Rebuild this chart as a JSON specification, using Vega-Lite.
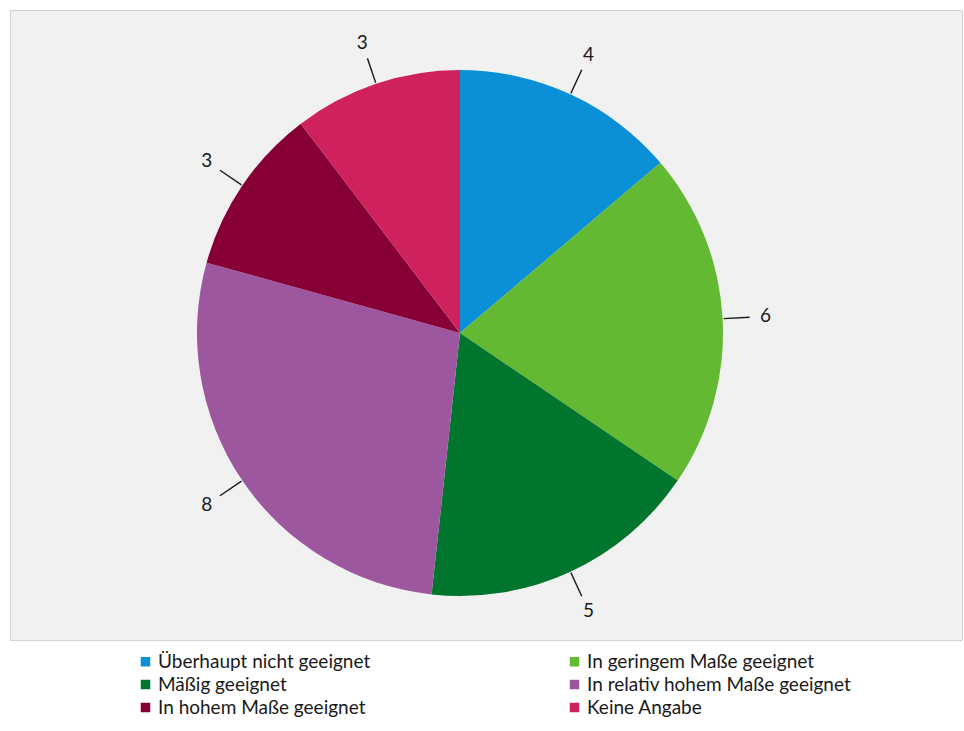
{
  "$schema": "https://vega.github.io/schema/vega-lite/v6.json",
  "width": 952,
  "height": 630,
  "autosize": "none",
  "padding": {"left": 10, "top": 10, "right": 2, "bottom": 91},
  "background": "#ffffff",
  "view": {"fill": "#f1f1f1", "stroke": "#d4d4d4", "strokeWidth": 1},
  "config": {
    "font": "Lato"
  },
  "data": {
    "values": [
      {"category": "Überhaupt nicht geeignet", "value": 4, "order": 1},
      {"category": "In geringem Maße geeignet", "value": 6, "order": 2},
      {"category": "Mäßig geeignet", "value": 5, "order": 3},
      {"category": "In relativ hohem Maße geeignet", "value": 8, "order": 4},
      {"category": "In hohem Maße geeignet", "value": 3, "order": 5},
      {"category": "Keine Angabe", "value": 3, "order": 6}
    ]
  },
  "transform": [
    {"window": [{"op": "sum", "field": "value", "as": "cum"}], "sort": [{"field": "order"}], "frame": [null, 0]},
    {"joinaggregate": [{"op": "sum", "field": "value", "as": "total"}]},
    {"calculate": "(datum.cum - datum.value) / datum.total", "as": "start"},
    {"calculate": "datum.cum / datum.total", "as": "end"},
    {"calculate": "(datum.cum - datum.value / 2) / datum.total", "as": "mid"},
    {"calculate": "datum.mid - 0.0004", "as": "lo"},
    {"calculate": "datum.mid + 0.0004", "as": "hi"}
  ],
  "layer": [
    {
      "mark": {"type": "arc", "outerRadius": 263, "x": 450, "y": 323},
      "encoding": {
        "theta": {"field": "start", "type": "quantitative", "stack": null, "scale": {"domain": [0, 1]}},
        "theta2": {"field": "end"},
        "color": {
          "field": "category",
          "type": "nominal",
          "sort": {"field": "order"},
          "scale": {
            "domain": ["Überhaupt nicht geeignet", "In geringem Maße geeignet", "Mäßig geeignet", "In relativ hohem Maße geeignet", "In hohem Maße geeignet", "Keine Angabe"],
            "range": ["#0b8fd6", "#63b932", "#00752e", "#9c579e", "#860036", "#d0215f"]
          },
          "legend": {
            "title": null,
            "orient": "none",
            "legendX": 126,
            "legendY": 642,
            "direction": "horizontal",
            "columns": 2,
            "columnPadding": 194,
            "rowPadding": 3,
            "symbolType": "square",
            "symbolSize": 90,
            "symbolStrokeWidth": 0,
            "labelFont": "Lato",
            "labelFontSize": 19,
            "labelColor": "#1a1a1a",
            "labelLimit": 400,
            "labelOffset": 3
          }
        }
      }
    },
    {
      "mark": {"type": "arc", "innerRadius": 264, "outerRadius": 290, "x": 450, "y": 323, "color": "#1a1a1a"},
      "encoding": {
        "theta": {"field": "lo", "type": "quantitative", "stack": null, "scale": {"domain": [0, 1]}},
        "theta2": {"field": "hi"}
      }
    },
    {
      "mark": {"type": "text", "radius": 306, "x": 450, "y": 323, "fontSize": 19, "color": "#1a1a1a", "font": "Lato"},
      "encoding": {
        "theta": {"field": "mid", "type": "quantitative", "stack": null, "scale": {"domain": [0, 1]}},
        "text": {"field": "value", "type": "quantitative"}
      }
    }
  ]
}
